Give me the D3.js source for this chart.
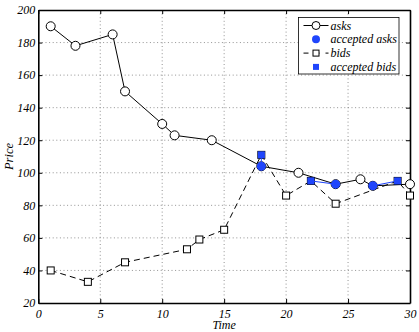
<!DOCTYPE html>
<html>
<head>
<meta charset="utf-8">
<script src="https://cdn.jsdelivr.net/npm/d3@7"></script>
<style>
  body { margin: 0; background: #fff; }
  text { font-family: "Liberation Serif", "Times New Roman", serif; font-style: italic; }
</style>
</head>
<body>
<script>
const WIDTH = 419
const HEIGHT = 332

// asks (open circles, solid line)
const askTimes = [1, 3, 6, 7, 10, 11, 14, 18, 21, 24, 26, 27, 30]
const askPrices = [190, 178, 185, 150, 130, 123, 120, 104, 100, 93, 96, 92, 93]
// bids (open squares, dashed line)
const bidTimes = [1, 4, 7, 12, 13, 15, 18, 20, 22, 24, 29, 30]
const bidPrices = [40, 33, 45, 53, 59, 65, 111, 86, 95, 81, 95, 86]
// accepted ones
const accAskTimes = [18, 24, 27]
const accAskPrices = [104, 93, 92]
const accBidTimes = [18, 22, 29]
const accBidPrices = [111, 95, 95]

const xTicks = [0, 5, 10, 15, 20, 25, 30]
const yTicks = [20, 40, 60, 80, 100, 120, 140, 160, 180, 200]

const BLUE = '#1f45fc'

const svg = d3.select('body')
  .append('svg')
  .attr('width', WIDTH)
  .attr('height', HEIGHT)

const x = d3.scaleLinear().domain([0, 30]).range([38.3, 410])
const y = d3.scaleLinear().domain([20, 200]).range([303, 10])

const asks = askTimes.map((t, i) => ({ t, p: askPrices[i] }))
const bids = bidTimes.map((t, i) => ({ t, p: bidPrices[i] }))
const accAsks = accAskTimes.map((t, i) => ({ t, p: accAskPrices[i] }))
const accBids = accBidTimes.map((t, i) => ({ t, p: accBidPrices[i] }))

// grid
const grid = svg.append('g')
grid.selectAll('.gx')
  .data(xTicks.slice(1, -1))
  .enter()
  .append('line')
  .attr('x1', d => x(d)).attr('x2', d => x(d))
  .attr('y1', y(200)).attr('y2', y(20))
  .attr('stroke', '#777').attr('stroke-width', 0.8)
  .attr('stroke-dasharray', '1,2.6')
grid.selectAll('.gy')
  .data(yTicks.slice(1, -1))
  .enter()
  .append('line')
  .attr('y1', d => y(d)).attr('y2', d => y(d))
  .attr('x1', x(0)).attr('x2', x(30))
  .attr('stroke', '#777').attr('stroke-width', 0.8)
  .attr('stroke-dasharray', '1,2.6')

// axes, ticks pointing inward on all sides
const TICK = 4
svg.append('g')
  .attr('transform', `translate(0,${y(20)})`)
  .call(d3.axisBottom(x).tickValues(xTicks).tickSizeInner(-TICK).tickSizeOuter(0).tickPadding(6))
svg.append('g')
  .attr('transform', `translate(0,${y(200)})`)
  .call(d3.axisTop(x).tickValues(xTicks).tickSizeInner(-TICK).tickSizeOuter(0).tickFormat(''))
svg.append('g')
  .attr('transform', `translate(${x(0)},0)`)
  .call(d3.axisLeft(y).tickValues(yTicks).tickSizeInner(-TICK).tickSizeOuter(0).tickPadding(3))
svg.append('g')
  .attr('transform', `translate(${x(30)},0)`)
  .call(d3.axisRight(y).tickValues(yTicks).tickSizeInner(-TICK).tickSizeOuter(0).tickFormat(''))

svg.selectAll('.domain').attr('stroke', '#000').attr('stroke-width', 1.6)
svg.selectAll('.tick line').attr('stroke', '#000').attr('stroke-width', 1)
svg.selectAll('.tick text')
  .attr('font-family', '"Liberation Serif", serif')
  .attr('font-style', 'italic')
  .attr('font-size', 12)
  .attr('fill', '#000')

// axis labels
svg.append('text')
  .attr('x', (x(0) + x(30)) / 2)
  .attr('y', 328.5)
  .attr('text-anchor', 'middle')
  .attr('font-size', 12)
  .text('Time')
svg.append('text')
  .attr('transform', `translate(13,${(y(20) + y(200)) / 2}) rotate(-90)`)
  .attr('text-anchor', 'middle')
  .attr('font-size', 12.5)
  .text('Price')

const line = d3.line().x(d => x(d.t)).y(d => y(d.p))

// bids
svg.append('path')
  .datum(bids)
  .attr('d', line)
  .attr('fill', 'none')
  .attr('stroke', '#000')
  .attr('stroke-width', 1)
  .attr('stroke-dasharray', '6,4')
svg.selectAll('.bid')
  .data(bids)
  .enter()
  .append('rect')
  .attr('x', d => x(d.t) - 3.5)
  .attr('y', d => y(d.p) - 3.5)
  .attr('width', 7).attr('height', 7)
  .attr('fill', '#fff').attr('stroke', '#000').attr('stroke-width', 1)

// asks
svg.append('path')
  .datum(asks)
  .attr('d', line)
  .attr('fill', 'none')
  .attr('stroke', '#000')
  .attr('stroke-width', 1)
svg.selectAll('.ask')
  .data(asks)
  .enter()
  .append('circle')
  .attr('cx', d => x(d.t))
  .attr('cy', d => y(d.p))
  .attr('r', 4.5)
  .attr('fill', '#fff').attr('stroke', '#000').attr('stroke-width', 1)

// matched pairs
svg.selectAll('.pair')
  .data(accBids)
  .enter()
  .append('line')
  .attr('x1', d => x(d.t)).attr('y1', d => y(d.p))
  .attr('x2', (d, i) => x(accAsks[i].t)).attr('y2', (d, i) => y(accAsks[i].p))
  .attr('stroke', BLUE).attr('stroke-width', 1)

svg.selectAll('.accask')
  .data(accAsks)
  .enter()
  .append('circle')
  .attr('cx', d => x(d.t))
  .attr('cy', d => y(d.p))
  .attr('r', 4.5)
  .attr('fill', BLUE)
svg.selectAll('.accbid')
  .data(accBids)
  .enter()
  .append('rect')
  .attr('x', d => x(d.t) - 3.5)
  .attr('y', d => y(d.p) - 3.5)
  .attr('width', 7).attr('height', 7)
  .attr('fill', BLUE)

// legend
const legend = svg.append('g').attr('transform', 'translate(298.5,17.5)')
legend.append('rect')
  .attr('width', 100.5).attr('height', 56.5)
  .attr('fill', '#fff').attr('stroke', '#000').attr('stroke-width', 0.8)

const ROW = 13.8
const items = ['asks', 'accepted asks', 'bids', 'accepted bids']
items.forEach((name, i) => {
  const g = legend.append('g').attr('transform', `translate(0,${8 + i * ROW})`)
  if (i === 0 || i === 2) {
    g.append('line')
      .attr('x1', 5).attr('x2', 30).attr('y1', 0).attr('y2', 0)
      .attr('stroke', '#000').attr('stroke-width', 1)
      .attr('stroke-dasharray', i === 2 ? '5,6' : null)
  }
  if (i === 0) {
    g.append('circle').attr('cx', 17.5).attr('cy', 0).attr('r', 4)
      .attr('fill', '#fff').attr('stroke', '#000')
  } else if (i === 1) {
    g.append('circle').attr('cx', 17.5).attr('cy', 0).attr('r', 4).attr('fill', BLUE)
  } else if (i === 2) {
    g.append('rect').attr('x', 14.5).attr('y', -3).attr('width', 6).attr('height', 6)
      .attr('fill', '#fff').attr('stroke', '#000')
  } else {
    g.append('rect').attr('x', 14.5).attr('y', -3).attr('width', 6).attr('height', 6)
      .attr('fill', BLUE)
  }
  g.append('text')
    .attr('x', 32)
    .attr('y', 4)
    .attr('font-size', 12)
    .text(name)
})
</script>
</body>
</html>
